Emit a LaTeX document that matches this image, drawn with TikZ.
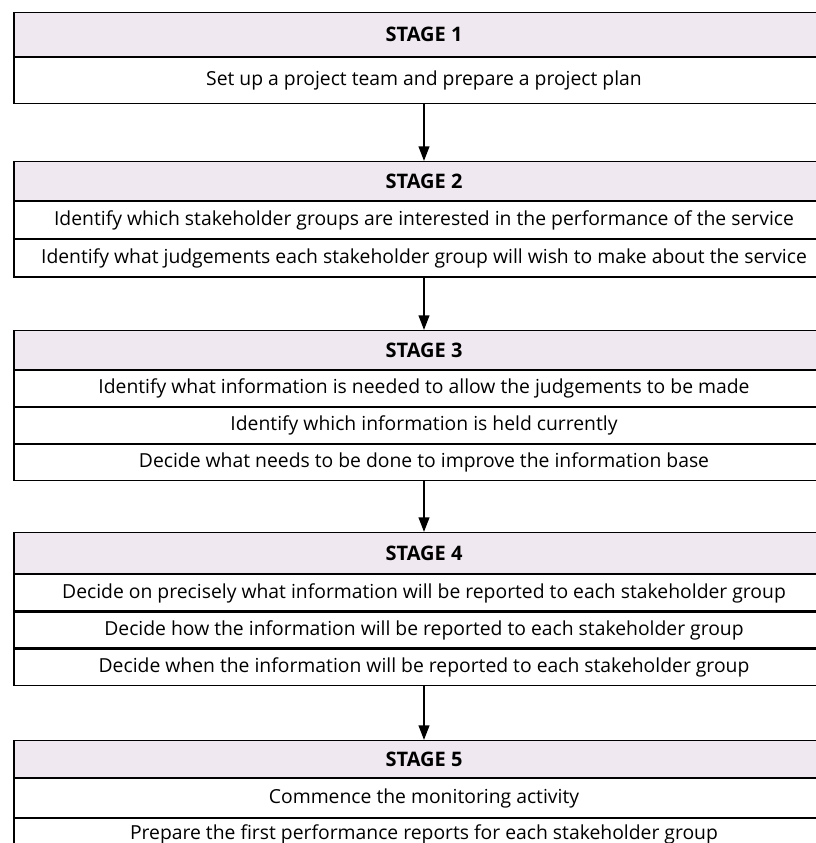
\documentclass[tikz,border=0pt]{standalone}
\usepackage{fontspec}
\setmainfont{Open Sans}
\usetikzlibrary{positioning,arrows.meta}
\definecolor{stagefill}{RGB}{239,232,240}
\tikzset{
  stagehead/.style={draw, line width=0.8pt, fill=stagefill, minimum width=615pt,
    minimum height=29pt, inner sep=0pt, font=\fontsize{15}{17}\selectfont\bfseries},
  taskrow/.style={draw, line width=0.8pt, fill=white, minimum width=615pt,
    minimum height=27pt, inner sep=0pt, font=\fontsize{14.5}{17}\selectfont},
  flow/.style={line width=1.5pt, -{Triangle[length=11pt,width=8pt]}}
}
\begin{document}
\begin{tikzpicture}[x=0.75pt,y=-0.75pt]
        \useasboundingbox (0,0) rectangle (816,843);
        \clip (0,0) rectangle (816,843);
        % stage 1
        \node[stagehead, minimum height=33pt, anchor=north] (s1h) at (424,12) {STAGE 1};
        \node[taskrow, minimum height=34.5pt, below=0pt of s1h] (s1a) {Set up a project team and prepare a project plan};
        %
        % stage 2
        \node[stagehead, anchor=north] (s2h) at (424,161) {STAGE 2};
        \node[taskrow, minimum height=28pt, below=0pt of s2h] (s2a) {Identify which stakeholder groups are interested in the performance of the service};
        \node[taskrow, minimum height=28pt, below=0pt of s2a] (s2b) {Identify what judgements each stakeholder group will wish to make about the service};
        %
        % stage 3
        \node[stagehead, anchor=north] (s3h) at (424,330) {STAGE 3};
        \node[taskrow, below=0pt of s3h] (s3a) {Identify what information is needed to allow the judgements to be made};
        \node[taskrow, below=0pt of s3a] (s3b) {Identify which information is held currently};
        \node[taskrow, below=0pt of s3b] (s3c) {Decide what needs to be done to improve the information base};
        %
        % stage 4
        \node[stagehead, minimum height=31pt, anchor=north] (s4h) at (424,532) {STAGE 4};
        \node[taskrow, below=0pt of s4h] (s4a) {Decide on precisely what information will be reported to each stakeholder group};
        \node[taskrow, below=0pt of s4a] (s4b) {Decide how the information will be reported to each stakeholder group};
        \node[taskrow, below=0pt of s4b] (s4c) {Decide when the information will be reported to each stakeholder group};
        %
        % stage 5
        \node[stagehead, minimum height=28pt, anchor=north] (s5h) at (424,740) {STAGE 5};
        \node[taskrow, minimum height=29pt, below=0pt of s5h] (s5a) {Commence the monitoring activity};
        \node[taskrow, minimum height=24pt, below=0pt of s5a] (s5b) {Prepare the first performance reports for each stakeholder group};
        %
        % arrows
        \draw[flow] (s1a.south) -- (s2h.north);
        \draw[flow] (s2b.south) -- (s3h.north);
        \draw[flow] (s3c.south) -- (s4h.north);
        \draw[flow] (s4c.south) -- (s5h.north);
    \end{tikzpicture}
\end{document}
